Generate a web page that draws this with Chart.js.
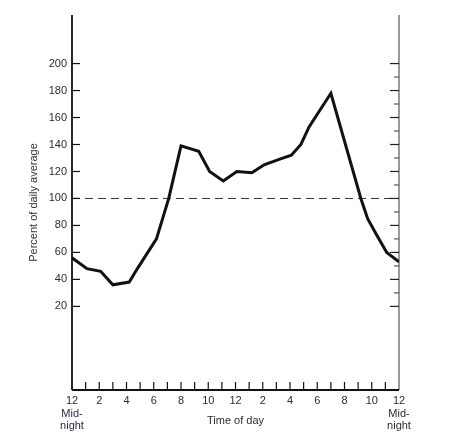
<!DOCTYPE html>
<html>
<head>
<meta charset="utf-8">
<script src="https://cdn.jsdelivr.net/npm/chart.js@4/dist/chart.umd.min.js"></script>
<style>
  html, body { margin: 0; padding: 0; background: #fff; }
  #wrap { width: 451px; height: 442px; }
</style>
</head>
<body>
<div id="wrap"><canvas id="dayChart" width="451" height="442"></canvas></div>
<script>
// hour of day (0 = midnight) and percent of daily average
const hours  = [0, 1.1, 2.1, 3.0, 4.2, 4.8, 6.2, 6.5, 7.1, 7.7, 8.0, 9.3, 10.1, 11.1, 12.1, 13.2, 14.1, 15.2, 16.1, 16.8, 17.4, 19.0, 21.2, 21.7, 22.3, 23.1, 24];
const values = [56, 48, 46, 36, 38, 48, 70, 80, 100, 126, 139, 135, 120, 113, 120, 119, 125, 129, 132, 140, 153, 178, 100, 85, 74, 60, 53];
const yLabels = [20, 40, 60, 80, 100, 120, 140, 160, 180, 200];
const yMinorTicks = [30, 50, 70, 90, 110, 130, 150, 170, 190];
const averageLine = 100;

const textColor = '#2b2b38';
const fontFamily = '"Liberation Sans", Arial, sans-serif';

// axes, tick marks and the dashed 100% line
const framePlugin = {
    id: 'frame',
    beforeDatasetsDraw(chart) {
        const { ctx, chartArea: a, scales: { x, y } } = chart;
        ctx.save();

        // dashed average line
        const y100 = y.getPixelForValue(averageLine);
        ctx.strokeStyle = '#333';
        ctx.lineWidth = 1;
        ctx.setLineDash([8, 5]);
        ctx.beginPath();
        ctx.moveTo(a.left, y100);
        ctx.lineTo(a.right, y100);
        ctx.stroke();
        ctx.setLineDash([]);

        // right axis (grey) with major + minor ticks
        ctx.strokeStyle = '#777';
        ctx.lineWidth = 1.5;
        ctx.beginPath();
        ctx.moveTo(a.right, a.top);
        ctx.lineTo(a.right, a.bottom);
        ctx.stroke();
        ctx.strokeStyle = '#222';
        ctx.lineWidth = 1.2;
        yLabels.forEach(v => {
            const py = y.getPixelForValue(v);
            ctx.beginPath();
            ctx.moveTo(a.right - 9, py);
            ctx.lineTo(a.right, py);
            ctx.stroke();
        });
        ctx.strokeStyle = '#555';
        yMinorTicks.forEach(v => {
            const py = y.getPixelForValue(v);
            ctx.beginPath();
            ctx.moveTo(a.right - 5, py);
            ctx.lineTo(a.right, py);
            ctx.stroke();
        });

        // left axis with ticks
        ctx.strokeStyle = '#111';
        ctx.lineWidth = 1.8;
        ctx.beginPath();
        ctx.moveTo(a.left, a.top);
        ctx.lineTo(a.left, a.bottom);
        ctx.stroke();
        ctx.lineWidth = 1.2;
        yLabels.forEach(v => {
            const py = y.getPixelForValue(v);
            ctx.beginPath();
            ctx.moveTo(a.left, py);
            ctx.lineTo(a.left + 8, py);
            ctx.stroke();
        });

        // bottom axis with hourly ticks
        ctx.lineWidth = 1.8;
        ctx.beginPath();
        ctx.moveTo(a.left, a.bottom);
        ctx.lineTo(a.right, a.bottom);
        ctx.stroke();
        ctx.lineWidth = 1.2;
        for (let h = 1; h < 24; h++) {
            const px = x.getPixelForValue(h);
            ctx.beginPath();
            ctx.moveTo(px, a.bottom - 8);
            ctx.lineTo(px, a.bottom);
            ctx.stroke();
        }
        ctx.restore();
    }
};

const ctx = document.getElementById('dayChart').getContext('2d');
new Chart(ctx, {
    type: 'line',
    data: {
        datasets: [{
            data: hours.map((h, i) => ({ x: h, y: values[i] })),
            borderColor: '#111',
            borderWidth: 3,
            pointRadius: 0,
            tension: 0,
            fill: false
        }]
    },
    options: {
        responsive: false,
        animation: false,
        devicePixelRatio: 1,
        layout: { padding: { left: 27, right: 52, top: 15, bottom: 0 } },
        plugins: { legend: { display: false }, tooltip: { enabled: false } },
        scales: {
            x: {
                type: 'linear',
                min: 0,
                max: 24,
                border: { display: false },
                grid: { display: false, drawTicks: false },
                afterBuildTicks(scale) {
                    scale.ticks = [];
                    for (let h = 0; h <= 24; h += 2) scale.ticks.push({ value: h });
                },
                afterFit(scale) { scale.height = 52; },
                ticks: {
                    autoSkip: false,
                    maxRotation: 0,
                    padding: 4,
                    color: textColor,
                    font: { family: fontFamily, size: 11, lineHeight: 1.18 },
                    callback(v) {
                        const lbl = String(v % 12 === 0 ? 12 : v % 12);
                        return (v === 0 || v === 24) ? [lbl, 'Mid-', 'night'] : lbl;
                    }
                },
                title: {
                    display: true,
                    text: 'Time of day',
                    color: textColor,
                    font: { family: fontFamily, size: 11, lineHeight: 1.18 },
                    padding: { top: 0, bottom: 15 }
                }
            },
            y: {
                min: -42,
                max: 236,
                border: { display: false },
                grid: { display: false, drawTicks: false },
                afterBuildTicks(scale) {
                    scale.ticks = yLabels.map(v => ({ value: v }));
                },
                afterFit(scale) { scale.width = 45; },
                ticks: {
                    padding: 5,
                    color: textColor,
                    font: { family: fontFamily, size: 11 }
                },
                title: {
                    display: true,
                    text: 'Percent of daily average',
                    color: '#3a3030',
                    font: { family: fontFamily, size: 11 },
                    padding: 0
                }
            }
        }
    },
    plugins: [framePlugin]
});
</script>
</body>
</html>
